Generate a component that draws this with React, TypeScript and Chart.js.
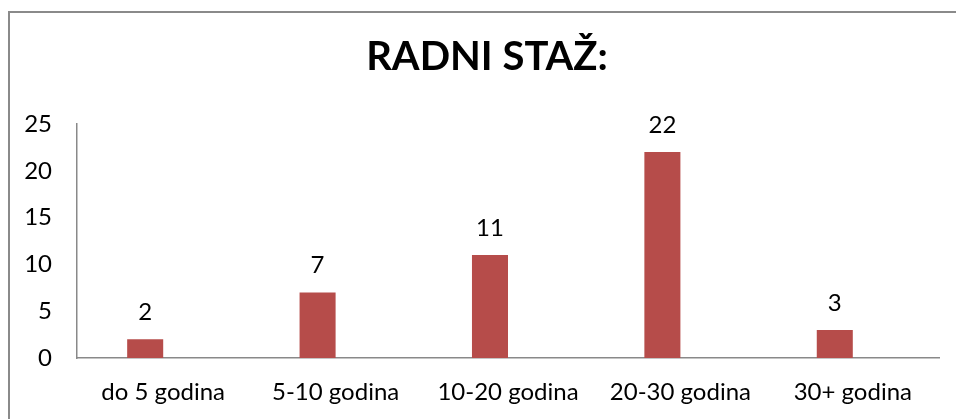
import React, { useEffect, useRef } from "react";
import { Chart, registerables } from "chart.js";

Chart.register(...registerables);

const categories = ["do 5 godina", "5-10 godina", "10-20 godina", "20-30 godina", "30+ godina"];
const values = [2, 7, 11, 22, 3];
const emptySeries = [null, null, null, null, null];
const yTicks = [0, 5, 10, 15, 20, 25];
const title = "RADNI STAŽ:";

const FONT = "Lato, 'Open Sans', sans-serif";

const labelsPlugin = {
  id: "customLabels",
  afterDatasetsDraw(chart: any) {
    const ctx = chart.ctx;
    ctx.save();
    ctx.fillStyle = "#000";
    ctx.textAlign = "center";
    ctx.textBaseline = "middle";
    ctx.font = `24px ${FONT}`;
    const meta = chart.getDatasetMeta(0);
    meta.data.forEach((bar: any, i: number) => {
      ctx.fillText(String(values[i]), bar.x, bar.y - 27);
    });
    ctx.font = `bold 40px ${FONT}`;
    ctx.fillText(title, 477, 44);
    ctx.restore();
  },
};

export default function App() {
  const ref = useRef<HTMLCanvasElement | null>(null);
  useEffect(() => {
    if (!ref.current) return;
    const chart = new Chart(ref.current, {
      type: "bar",
      data: {
        labels: categories,
        datasets: [
          { data: values, backgroundColor: "#B64C4A", categoryPercentage: 0.418, barPercentage: 1 },
          { data: emptySeries as any, backgroundColor: "#4F81BD", categoryPercentage: 0.418, barPercentage: 1 },
        ],
      },
      options: {
        responsive: false,
        animation: false,
        layout: { padding: { top: 111, right: 17, left: 0, bottom: 0 } },
        plugins: { legend: { display: false }, tooltip: { enabled: false }, title: { display: false } },
        scales: {
          x: {
            grid: { display: false, drawTicks: false },
            border: { display: true, color: "#898989", width: 1.5 },
            ticks: { color: "#000", font: { family: FONT, size: 24 }, padding: 20, maxRotation: 0, autoSkip: false },
            afterFit: (s: any) => { s.height = 61; },
          },
          y: {
            min: 0,
            max: 25,
            afterBuildTicks: (s: any) => { s.ticks = yTicks.map((v) => ({ value: v })); },
            grid: { display: false, drawTicks: false },
            border: { display: true, color: "#898989", width: 1.5 },
            ticks: { color: "#000", font: { family: FONT, size: 24 }, padding: 25 },
            afterFit: (s: any) => { s.width = 67; },
          },
        },
      },
      plugins: [labelsPlugin],
    });
    return () => chart.destroy();
  }, []);
  return (
    <div
      style={{
        position: "absolute",
        left: 8,
        top: 11,
        width: 946,
        height: 406,
        borderTop: "2px solid #8a8a8a",
        borderLeft: "2px solid #8a8a8a",
        background: "#fff",
      }}
    >
      <canvas ref={ref} width={946} height={406} style={{ display: "block" }} />
    </div>
  );
}
